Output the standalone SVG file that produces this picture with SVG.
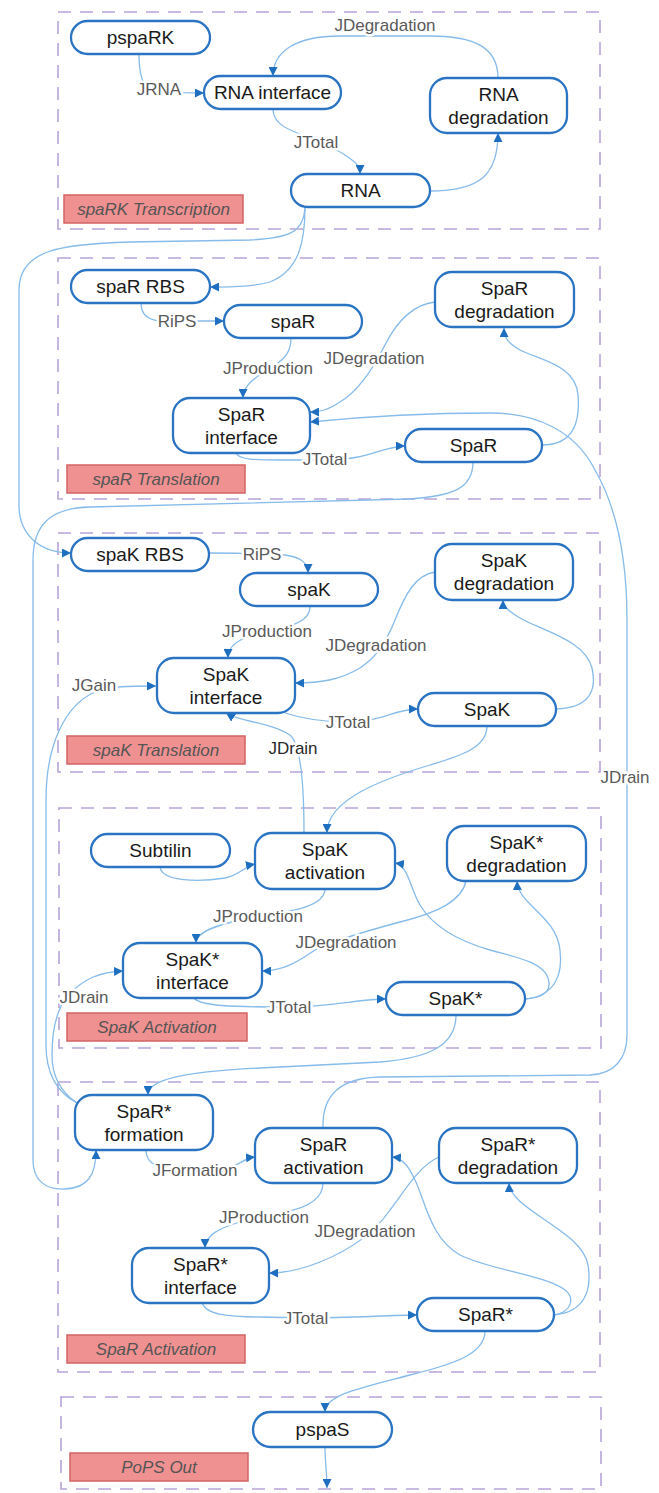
<svg xmlns="http://www.w3.org/2000/svg" width="659" height="1493" viewBox="0 0 659 1493">
<style>
.grp{fill:none;stroke:#b7a4da;stroke-width:1.6;stroke-dasharray:13 9}
.tag{fill:#f09191;stroke:#d46363;stroke-width:1.5}
.tagt{font-family:"Liberation Sans",Arial,sans-serif;font-size:17px;font-style:italic;fill:#555;text-anchor:middle}
.nd{fill:#fff;stroke:#2a74c3;stroke-width:2.3}
.nt{font-family:"Liberation Sans",Arial,sans-serif;font-size:19px;fill:#1a1a1a;text-anchor:middle}
.e{fill:none;stroke:#86bbea;stroke-width:1.3;marker-end:url(#ah)}
.en{fill:none;stroke:#86bbea;stroke-width:1.3}
.lb{font-family:"Liberation Sans",Arial,sans-serif;font-size:17px;fill:#5a5a5a;text-anchor:middle;paint-order:stroke;stroke:#fff;stroke-width:5;stroke-linejoin:round}
.dk{fill:#2a2a2a}
</style>
<defs>
<marker id="ah" viewBox="0 0 10 10" refX="10" refY="5" markerWidth="9" markerHeight="9" markerUnits="userSpaceOnUse" orient="auto"><path d="M0,0L10,5L0,10z" fill="#1f6fc0"/></marker>
</defs>
<rect width="659" height="1493" fill="#fff"/>

<g id="groups">
<rect class="grp" x="58" y="12" width="542" height="217"/>
<rect class="tag" x="64" y="195" width="179" height="28"/>
<text class="tagt" x="153.5" y="215">spaRK Transcription</text>
<rect class="grp" x="58" y="258" width="542" height="241"/>
<rect class="tag" x="67" y="465" width="178" height="28"/>
<text class="tagt" x="156" y="485">spaR Translation</text>
<rect class="grp" x="58" y="533" width="542" height="239"/>
<rect class="tag" x="67" y="736" width="178" height="28"/>
<text class="tagt" x="156" y="756">spaK Translation</text>
<rect class="grp" x="59" y="808" width="542" height="240"/>
<rect class="tag" x="67" y="1013" width="180" height="28"/>
<text class="tagt" x="157" y="1033">SpaK Activation</text>
<rect class="grp" x="58" y="1082" width="542" height="290"/>
<rect class="tag" x="67" y="1335" width="178" height="28"/>
<text class="tagt" x="156" y="1355">SpaR Activation</text>
<rect class="grp" x="61" y="1397" width="540" height="92"/>
<rect class="tag" x="70" y="1453" width="178" height="28"/>
<text class="tagt" x="159" y="1473">PoPS Out</text>
</g>

<g id="connectors">
<path class="e" d="M139,54 C139,70 141,85 150,90 C160,93 180,93 204,93"/>
<path class="e" d="M498,78 C498,45 470,36 430,36 L340,36 C295,36 273,52 273,76"/>
<path class="e" d="M273,109 C273,122 285,128 295,132 C315,140 335,148 345,155 C355,162 360,165 360,174"/>
<path class="e" d="M430,191 C480,191 498,175 498,133"/>
<path class="e" d="M305,207 C305,240 300,270 270,282 C250,288 225,287 210,287"/>
<path class="e" d="M305,207 C304,232 290,238 250,240 L130,242 C60,244 19,250 19,290 L19,505 C19,535 40,553 71,553"/>
<path class="e" d="M141,303 C141,315 148,320 160,321 L224,321"/>
<path class="e" d="M291,338 C291,352 285,358 275,365 C260,375 243,383 243,398"/>
<path class="e" d="M435,302 C410,305 395,325 385,345 C375,365 360,390 340,402 C328,410 320,412 310,412"/>
<path class="e" d="M236,453 C240,460 255,460 280,460 L330,460 C365,460 385,446 405,446"/>
<path class="e" d="M542,445 C575,445 580,420 578,395 C576,365 540,360 520,350 C508,343 504,338 504,328"/>
<path class="e" d="M473,462 C473,490 450,496 410,499 L90,507 C50,508 33,525 33,560 L33,1160 C33,1180 45,1190 65,1189 C88,1188 96,1175 96,1150"/>
<path class="e" d="M323,1128 C322,1095 340,1078 380,1077 L590,1075 C615,1074 627,1058 627,1035 L627,620 C627,560 618,510 595,470 C575,430 535,413 490,413 C420,413 350,418 310,422"/>
<path class="e" d="M209,553 C230,553 260,553 285,555 C300,557 308,562 308,573"/>
<path class="e" d="M310,606 C310,618 300,622 290,626 L245,638 C235,642 228,648 228,658"/>
<path class="e" d="M435,572 C415,575 405,595 395,620 C385,645 375,658 360,668 C340,680 320,683 295,683"/>
<path class="e" d="M285,713 C300,718 320,722 349,722 C380,722 395,709 418,709"/>
<path class="e" d="M556,709 C590,708 597,690 592,668 C585,640 540,630 520,618 C507,610 503,606 503,600"/>
<path class="e" d="M487,726 C487,748 460,756 430,765 C380,780 327,800 327,833"/>
<path class="e" d="M304,833 C304,790 302,745 290,735 C270,722 240,722 226,713"/>
<path class="e" d="M77,1103 C58,1093 46,1075 46,1045 L46,800 C46,745 65,705 95,692 C110,686 130,686 156,686"/>
<path class="e" d="M77,1103 C62,1093 52,1078 52,1055 C52,1030 56,1010 68,995 C85,978 100,972 123,971"/>
<path class="e" d="M160,867 C162,882 200,882 225,878 C240,875 245,866 255,864"/>
<path class="e" d="M325,889 C325,900 312,906 295,910 L232,922 C212,927 196,933 196,943"/>
<path class="e" d="M466,881 C462,900 440,912 400,922 C370,930 335,940 315,950 C300,960 285,971 262,971"/>
<path class="e" d="M194,998 C200,1006 230,1007 289,1007 C330,1007 360,999 386,999"/>
<path class="e" d="M525,999 C545,998 552,990 548,978 C543,962 515,957 490,950 C455,940 432,925 420,905 C410,888 408,865 395,863"/>
<path class="e" d="M525,999 C555,996 563,975 560,950 C556,915 518,905 517,881"/>
<path class="e" d="M456,1015 C456,1045 430,1058 380,1062 L260,1068 C180,1072 148,1080 148,1095"/>
<path class="e" d="M146,1150 C146,1162 155,1168 175,1170 L230,1168 C240,1164 245,1158 255,1157"/>
<path class="e" d="M323,1183 C323,1200 305,1208 285,1212 L240,1222 C220,1228 205,1235 205,1248"/>
<path class="e" d="M439,1157 C420,1165 405,1190 390,1210 C375,1232 350,1250 320,1262 C300,1270 285,1273 269,1273"/>
<path class="e" d="M202,1302 C205,1315 230,1317 260,1317 L306,1318 C350,1318 390,1315 417,1315"/>
<path class="e" d="M554,1315 C585,1312 592,1290 588,1265 C582,1230 510,1210 509,1183"/>
<path class="e" d="M554,1315 C572,1312 575,1298 565,1290 C545,1275 490,1270 460,1255 C430,1238 425,1200 415,1180 C408,1165 402,1158 392,1157"/>
<path class="e" d="M485,1331 C485,1355 450,1365 410,1375 C360,1388 325,1395 325,1412"/>
<path class="e" d="M325,1447 C325,1460 327,1475 327,1488"/>

<text class="lb" x="385" y="31">JDegradation</text>
<text class="lb" x="159" y="95">JRNA</text>
<text class="lb" x="316" y="148">JTotal</text>
<text class="lb" x="177" y="327">RiPS</text>
<text class="lb" x="268" y="374">JProduction</text>
<text class="lb" x="374" y="364">JDegradation</text>
<text class="lb" x="325" y="465">JTotal</text>
<text class="lb" x="262" y="560">RiPS</text>
<text class="lb" x="267" y="637">JProduction</text>
<text class="lb" x="376" y="651">JDegradation</text>
<text class="lb" x="94" y="691">JGain</text>
<text class="lb" x="348" y="728">JTotal</text>
<text class="lb dk" x="293" y="754">JDrain</text>
<text class="lb" x="625" y="783">JDrain</text>
<text class="lb" x="258" y="922">JProduction</text>
<text class="lb" x="346" y="948">JDegradation</text>
<text class="lb" x="84" y="1003">JDrain</text>
<text class="lb" x="289" y="1013">JTotal</text>
<text class="lb" x="195" y="1176">JFormation</text>
<text class="lb" x="264" y="1223">JProduction</text>
<text class="lb" x="365" y="1237">JDegradation</text>
<text class="lb" x="306" y="1324">JTotal</text>
</g>

<g id="n-pspaRK"><rect class="nd" x="71" y="21" width="139" height="33" rx="16.5"/><text class="nt" x="140.5" y="44">pspaRK</text></g>
<g id="n-rna-interface"><rect class="nd" x="204" y="76" width="137" height="33" rx="16.5"/><text class="nt" x="272.5" y="99">RNA interface</text></g>
<g id="n-rna-degradation"><rect class="nd" x="430" y="78" width="137" height="55" rx="17"/><text class="nt" x="498.5" y="100.5">RNA</text><text class="nt" x="498.5" y="123.5">degradation</text></g>
<g id="n-rna"><rect class="nd" x="291" y="174" width="139" height="33" rx="16.5"/><text class="nt" x="360.5" y="197">RNA</text></g>

<g id="n-spaR-RBS"><rect class="nd" x="71" y="270" width="139" height="33" rx="16.5"/><text class="nt" x="140.5" y="293">spaR RBS</text></g>
<g id="n-spaR"><rect class="nd" x="224" y="305" width="138" height="33" rx="16.5"/><text class="nt" x="293" y="328">spaR</text></g>
<g id="n-SpaR-degradation"><rect class="nd" x="435" y="272" width="139" height="55" rx="17"/><text class="nt" x="504.5" y="294.5">SpaR</text><text class="nt" x="504.5" y="317.5">degradation</text></g>
<g id="n-SpaR-interface"><rect class="nd" x="173" y="398" width="137" height="55" rx="17"/><text class="nt" x="241.5" y="420.5">SpaR</text><text class="nt" x="241.5" y="443.5">interface</text></g>
<g id="n-SpaR"><rect class="nd" x="405" y="429" width="137" height="33" rx="16.5"/><text class="nt" x="473.5" y="452">SpaR</text></g>

<g id="n-spaK-RBS"><rect class="nd" x="71" y="538" width="138" height="33" rx="16.5"/><text class="nt" x="140" y="561">spaK RBS</text></g>
<g id="n-spaK"><rect class="nd" x="240" y="573" width="138" height="33" rx="16.5"/><text class="nt" x="309" y="596">spaK</text></g>
<g id="n-SpaK-degradation"><rect class="nd" x="435" y="544" width="138" height="56" rx="17"/><text class="nt" x="504" y="567">SpaK</text><text class="nt" x="504" y="590">degradation</text></g>
<g id="n-SpaK-interface"><rect class="nd" x="157" y="658" width="138" height="55" rx="17"/><text class="nt" x="226" y="680.5">SpaK</text><text class="nt" x="226" y="703.5">interface</text></g>
<g id="n-SpaK"><rect class="nd" x="418" y="693" width="138" height="33" rx="16.5"/><text class="nt" x="487" y="716">SpaK</text></g>

<g id="n-Subtilin"><rect class="nd" x="91" y="834" width="139" height="33" rx="16.5"/><text class="nt" x="160.5" y="857">Subtilin</text></g>
<g id="n-SpaK-activation"><rect class="nd" x="255" y="833" width="140" height="56" rx="17"/><text class="nt" x="325" y="856">SpaK</text><text class="nt" x="325" y="879">activation</text></g>
<g id="n-SpaKs-degradation"><rect class="nd" x="447" y="826" width="139" height="55" rx="17"/><text class="nt" x="516.5" y="848.5">SpaK*</text><text class="nt" x="516.5" y="871.5">degradation</text></g>
<g id="n-SpaKs-interface"><rect class="nd" x="123" y="943" width="139" height="55" rx="17"/><text class="nt" x="192.5" y="965.5">SpaK*</text><text class="nt" x="192.5" y="988.5">interface</text></g>
<g id="n-SpaKs"><rect class="nd" x="386" y="982" width="139" height="33" rx="16.5"/><text class="nt" x="455.5" y="1005">SpaK*</text></g>

<g id="n-SpaRs-formation"><rect class="nd" x="75" y="1095" width="138" height="55" rx="17"/><text class="nt" x="144" y="1117.5">SpaR*</text><text class="nt" x="144" y="1140.5">formation</text></g>
<g id="n-SpaR-activation"><rect class="nd" x="255" y="1128" width="137" height="55" rx="17"/><text class="nt" x="323.5" y="1150.5">SpaR</text><text class="nt" x="323.5" y="1173.5">activation</text></g>
<g id="n-SpaRs-degradation"><rect class="nd" x="439" y="1128" width="138" height="55" rx="17"/><text class="nt" x="508" y="1150.5">SpaR*</text><text class="nt" x="508" y="1173.5">degradation</text></g>
<g id="n-SpaRs-interface"><rect class="nd" x="132" y="1248" width="137" height="55" rx="17"/><text class="nt" x="200.5" y="1270.5">SpaR*</text><text class="nt" x="200.5" y="1293.5">interface</text></g>
<g id="n-SpaRs"><rect class="nd" x="417" y="1298" width="137" height="33" rx="16.5"/><text class="nt" x="485.5" y="1321">SpaR*</text></g>

<g id="n-pspaS"><rect class="nd" x="253" y="1412" width="139" height="35" rx="17.5"/><text class="nt" x="322.5" y="1436">pspaS</text></g>
</svg>
